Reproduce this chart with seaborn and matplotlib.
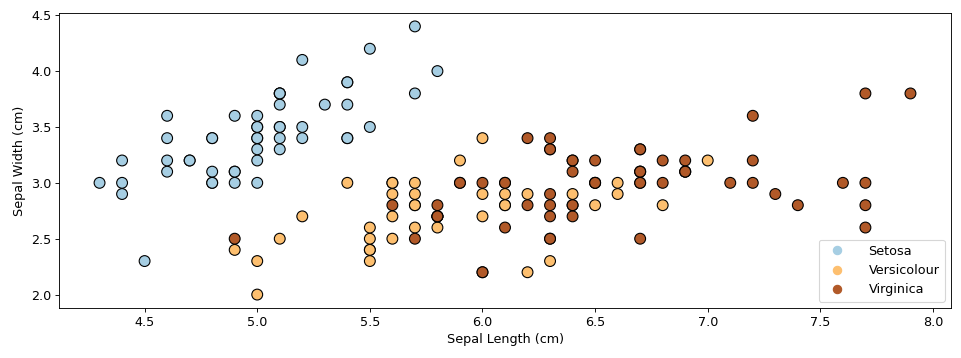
import numpy as np
import pandas as pd
import matplotlib
matplotlib.use("Agg")
import matplotlib.pyplot as plt
from matplotlib.lines import Line2D
import seaborn as sns

# iris sepal measurements
sepal_length = [
    5.1, 4.9, 4.7, 4.6, 5.0, 5.4, 4.6, 5.0, 4.4, 4.9, 5.4, 4.8, 4.8, 4.3, 5.8, 5.7, 5.4, 5.1, 5.7, 5.1,
    5.4, 5.1, 4.6, 5.1, 4.8, 5.0, 5.0, 5.2, 5.2, 4.7, 4.8, 5.4, 5.2, 5.5, 4.9, 5.0, 5.5, 4.9, 4.4, 5.1,
    5.0, 4.5, 4.4, 5.0, 5.1, 4.8, 5.1, 4.6, 5.3, 5.0,
    7.0, 6.4, 6.9, 5.5, 6.5, 5.7, 6.3, 4.9, 6.6, 5.2, 5.0, 5.9, 6.0, 6.1, 5.6, 6.7, 5.6, 5.8, 6.2, 5.6,
    5.9, 6.1, 6.3, 6.1, 6.4, 6.6, 6.8, 6.7, 6.0, 5.7, 5.5, 5.5, 5.8, 6.0, 5.4, 6.0, 6.7, 6.3, 5.6, 5.5,
    5.5, 6.1, 5.8, 5.0, 5.6, 5.7, 5.7, 6.2, 5.1, 5.7,
    6.3, 5.8, 7.1, 6.3, 6.5, 7.6, 4.9, 7.3, 6.7, 7.2, 6.5, 6.4, 6.8, 5.7, 5.8, 6.4, 6.5, 7.7, 7.7, 6.0,
    6.9, 5.6, 7.7, 6.3, 6.7, 7.2, 6.2, 6.1, 6.4, 7.2, 7.4, 7.9, 6.4, 6.3, 6.1, 7.7, 6.3, 6.4, 6.0, 6.9,
    6.7, 6.9, 5.8, 6.8, 6.7, 6.7, 6.3, 6.5, 6.2, 5.9,
]
sepal_width = [
    3.5, 3.0, 3.2, 3.1, 3.6, 3.9, 3.4, 3.4, 2.9, 3.1, 3.7, 3.4, 3.0, 3.0, 4.0, 4.4, 3.9, 3.5, 3.8, 3.8,
    3.4, 3.7, 3.6, 3.3, 3.4, 3.0, 3.4, 3.5, 3.4, 3.2, 3.1, 3.4, 4.1, 4.2, 3.1, 3.2, 3.5, 3.6, 3.0, 3.4,
    3.5, 2.3, 3.2, 3.5, 3.8, 3.0, 3.8, 3.2, 3.7, 3.3,
    3.2, 3.2, 3.1, 2.3, 2.8, 2.8, 3.3, 2.4, 2.9, 2.7, 2.0, 3.0, 2.2, 2.9, 2.9, 3.1, 3.0, 2.7, 2.2, 2.5,
    3.2, 2.8, 2.5, 2.8, 2.9, 3.0, 2.8, 3.0, 2.9, 2.6, 2.4, 2.4, 2.7, 2.7, 3.0, 3.4, 3.1, 2.3, 3.0, 2.5,
    2.6, 3.0, 2.6, 2.3, 2.7, 3.0, 2.9, 2.9, 2.5, 2.8,
    3.3, 2.7, 3.0, 2.9, 3.0, 3.0, 2.5, 2.9, 2.5, 3.6, 3.2, 2.7, 3.0, 2.5, 2.8, 3.2, 3.0, 3.8, 2.6, 2.2,
    3.2, 2.8, 2.8, 2.7, 3.3, 3.2, 2.8, 3.0, 2.8, 3.0, 2.8, 3.8, 2.8, 2.8, 2.6, 3.0, 3.4, 3.1, 3.0, 3.1,
    3.1, 3.1, 2.7, 3.2, 3.3, 3.0, 2.5, 3.0, 3.4, 3.0,
]
class_names = ["Setosa", "Versicolour", "Virginica"]
species = [class_names[i // 50] for i in range(150)]

df = pd.DataFrame({"length": sepal_length, "width": sepal_width, "species": species})

cmap = plt.get_cmap("Paired")
colors = [cmap(0.0), cmap(0.5), cmap(1.0)]
palette = dict(zip(class_names, colors))

plt.rcParams["font.size"] = 11.5

fig, ax = plt.subplots(figsize=(961 / 80, 358 / 80), dpi=80)
fig.subplots_adjust(left=0.0614, right=0.9896, top=0.9637, bottom=0.1397)

sns.scatterplot(data=df, x="length", y="width", hue="species", palette=palette,
                s=95, edgecolor="k", linewidth=1, legend=False, ax=ax)

handles = [Line2D([0], [0], marker="o", linestyle="", color=c, markersize=7.5) for c in colors]
ax.legend(handles, class_names, loc="lower right", handletextpad=1.5)

ax.set_xlabel("Sepal Length (cm)")
ax.set_ylabel("Sepal Width (cm)")

fig.savefig("out.png", dpi=80)
